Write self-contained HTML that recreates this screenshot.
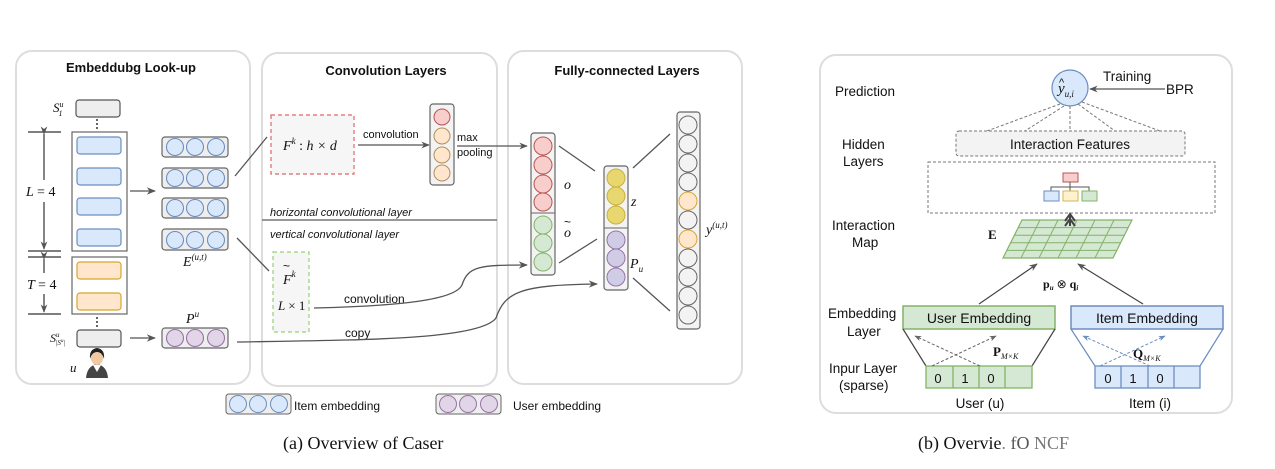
<!DOCTYPE html>
<html><head><meta charset="utf-8"><style>
html,body{margin:0;padding:0;background:#fff;}
svg{display:block;}
text{font-family:"Liberation Sans",sans-serif;fill:#111;}
.s{font-family:"Liberation Serif",serif;font-style:italic;}
.b{font-weight:bold;}
</style></head><body>
<svg width="1275" height="469" viewBox="0 0 1275 469" xmlns="http://www.w3.org/2000/svg">
<defs>
<marker id="a" viewBox="0 0 10 10" refX="9" refY="5" markerWidth="7" markerHeight="7" orient="auto"><path d="M0,1 L10,5 L0,9 L3,5z" fill="#555"/></marker>
<marker id="ad" viewBox="0 0 10 10" refX="9" refY="5" markerWidth="7" markerHeight="7" orient="auto"><path d="M0,1 L10,5 L0,9 L3,5z" fill="#666"/></marker>
<marker id="ab" viewBox="0 0 10 10" refX="9" refY="5" markerWidth="7" markerHeight="7" orient="auto"><path d="M0,1 L10,5 L0,9 L3,5z" fill="#6c8ebf"/></marker>
</defs>
<!-- panels -->
<rect x="16" y="51" width="234" height="333" rx="16" fill="#fff" stroke="#ddd" stroke-width="2"/>
<rect x="262" y="53" width="235" height="333" rx="16" fill="#fff" stroke="#ddd" stroke-width="2"/>
<rect x="508" y="51" width="234" height="333" rx="16" fill="#fff" stroke="#ddd" stroke-width="2"/>
<text x="131" y="72" font-size="13" class="b" text-anchor="middle">Embeddubg Look-up</text>
<text x="386" y="75" font-size="13" class="b" text-anchor="middle">Convolution Layers</text>
<text x="627" y="75" font-size="13" class="b" text-anchor="middle">Fully-connected Layers</text>

<!-- left panel -->
<text x="53" y="112" font-size="13" class="s">S<tspan font-size="8" dy="-5">u</tspan><tspan font-size="8" dx="-5" dy="9">1</tspan></text>
<rect x="76" y="100" width="44" height="17" rx="3" fill="#eee" stroke="#555" stroke-width="1.2"/>
<g stroke="#333" stroke-width="1.5" stroke-dasharray="2,2">
<line x1="97" y1="119" x2="97" y2="130"/><line x1="97" y1="218" x2="97" y2="228"/><line x1="97" y1="276" x2="97" y2="285"/><line x1="97" y1="317" x2="97" y2="328"/></g>
<rect x="72" y="132" width="55" height="119" fill="#fff" stroke="#666" stroke-width="1.2"/>
<g fill="#dae8fc" stroke="#6c8ebf" stroke-width="1.2">
<rect x="77" y="137" width="44" height="17" rx="3"/><rect x="77" y="168" width="44" height="17" rx="3"/><rect x="77" y="198" width="44" height="17" rx="3"/><rect x="77" y="229" width="44" height="17" rx="3"/></g>
<rect x="72" y="257" width="55" height="57" fill="#fff" stroke="#666" stroke-width="1.2"/>
<g fill="#ffe6cc" stroke="#d6a62c" stroke-width="1.2">
<rect x="77" y="262" width="44" height="17" rx="3"/><rect x="77" y="293" width="44" height="17" rx="3"/></g>
<rect x="77" y="330" width="44" height="17" rx="3" fill="#eee" stroke="#555" stroke-width="1.2"/>
<text x="50" y="342" font-size="12" class="s">S<tspan font-size="7" dy="-5">u</tspan><tspan font-size="7" dx="-4" dy="8">|S</tspan><tspan font-size="5" dy="-3">u</tspan><tspan font-size="7" dy="3">|</tspan></text>
<text x="70" y="372" font-size="13" class="s">u</text>
<!-- person -->
<g><path d="M86,378 Q87,366 97,364 Q107,366 108,378z" fill="#444"/><path d="M93,365 L97,372 L101,365z" fill="#fff"/>
<ellipse cx="97" cy="358" rx="6" ry="7" fill="#f3c9a3"/><path d="M90,359 Q89,349 97,348 Q105,349 104,359 Q102,352 97,352 Q92,352 90,359z" fill="#222"/></g>
<!-- brackets -->
<g stroke="#333" stroke-width="1.2">
<line x1="28" y1="132" x2="61" y2="132"/><line x1="28" y1="251" x2="61" y2="251"/><line x1="28" y1="257" x2="61" y2="257"/><line x1="28" y1="314" x2="61" y2="314"/>
<line x1="44" y1="134" x2="44" y2="180" marker-start="url(#a)"/><line x1="44" y1="202" x2="44" y2="249" marker-end="url(#a)"/>
<line x1="44" y1="259" x2="44" y2="273" marker-start="url(#a)"/><line x1="44" y1="294" x2="44" y2="312" marker-end="url(#a)"/></g>
<text x="26" y="196" font-size="14" class="s">L <tspan font-style="normal">= 4</tspan></text>
<text x="27" y="289" font-size="14" class="s">T <tspan font-style="normal">= 4</tspan></text>
<line x1="130" y1="191" x2="155" y2="191" stroke="#555" stroke-width="1.3" marker-end="url(#a)"/>
<line x1="130" y1="338" x2="155" y2="338" stroke="#555" stroke-width="1.3" marker-end="url(#a)"/>
<!-- E rows -->
<g stroke="#666" stroke-width="1.2" fill="#eee">
<rect x="162" y="137" width="66" height="20" rx="3"/><rect x="162" y="168" width="66" height="20" rx="3"/><rect x="162" y="198" width="66" height="20" rx="3"/><rect x="162" y="229" width="66" height="21" rx="3"/>
<rect x="162" y="328" width="66" height="20" rx="3"/></g>
<g fill="#dae8fc" stroke="#6c8ebf" stroke-width="1.1">
<circle cx="175" cy="147" r="8.5"/><circle cx="195" cy="147" r="8.5"/><circle cx="216" cy="147" r="8.5"/>
<circle cx="175" cy="178" r="8.5"/><circle cx="195" cy="178" r="8.5"/><circle cx="216" cy="178" r="8.5"/>
<circle cx="175" cy="208" r="8.5"/><circle cx="195" cy="208" r="8.5"/><circle cx="216" cy="208" r="8.5"/>
<circle cx="175" cy="240" r="8.5"/><circle cx="195" cy="240" r="8.5"/><circle cx="216" cy="240" r="8.5"/></g>
<g fill="#e1d5e7" stroke="#9673a6" stroke-width="1.1">
<circle cx="175" cy="338" r="8.5"/><circle cx="195" cy="338" r="8.5"/><circle cx="216" cy="338" r="8.5"/></g>
<text x="183" y="266" font-size="14" class="s">E<tspan font-size="9" dy="-6">(u,t)</tspan></text>
<text x="186" y="323" font-size="14" class="s">P<tspan font-size="9" dy="-6">u</tspan></text>
<g stroke="#555" stroke-width="1.3"><line x1="235" y1="176" x2="267" y2="137"/><line x1="237" y1="238" x2="269" y2="271"/></g>

<!-- conv panel -->
<rect x="271" y="115" width="83" height="59" fill="#f6f6f6" stroke="#e06666" stroke-width="1.2" stroke-dasharray="4,3"/>
<text x="283" y="150" font-size="14" class="s">F<tspan font-size="9" dy="-6">k</tspan><tspan dy="6" font-style="normal"> : </tspan>h × d</text>
<text x="363" y="138" font-size="11">convolution</text>
<line x1="358" y1="145" x2="429" y2="145" stroke="#555" stroke-width="1.2" marker-end="url(#a)"/>
<rect x="430" y="104" width="24" height="81" rx="3" fill="#f3f3f3" stroke="#666" stroke-width="1.2"/>
<circle cx="442" cy="117" r="8" fill="#f8cecc" stroke="#b85450"/>
<g fill="#ffe6cc" stroke="#b09060"><circle cx="442" cy="136" r="8"/><circle cx="442" cy="155" r="8"/><circle cx="442" cy="173" r="8"/></g>
<text x="457" y="141" font-size="11">max</text><text x="457" y="156" font-size="11">pooling</text>
<line x1="457" y1="146" x2="527" y2="146" stroke="#555" stroke-width="1.2" marker-end="url(#a)"/>
<line x1="262" y1="220" x2="497" y2="220" stroke="#777" stroke-width="1.5"/>
<text x="270" y="216" font-size="11" font-style="italic">horizontal convolutional layer</text>
<text x="270" y="238" font-size="11" font-style="italic">vertical convolutional layer</text>
<rect x="273" y="252" width="36" height="80" fill="#f6f6f6" stroke="#97d077" stroke-width="1.2" stroke-dasharray="4,3"/>
<text x="283" y="284" font-size="14" class="s">F<tspan font-size="9" dy="-7">k</tspan></text>
<text x="283" y="270" font-size="12">~</text>
<text x="278" y="310" font-size="13" class="s">L <tspan font-style="normal">× 1</tspan></text>
<text x="344" y="303" font-size="12">convolution</text>
<path d="M314,308 C400,306 455,300 462,285 C468,266 480,265 527,265" fill="none" stroke="#555" stroke-width="1.3" marker-end="url(#a)"/>
<text x="345" y="337" font-size="12">copy</text>
<path d="M237,342 C360,340 480,340 496,318 C505,292 520,285 597,284" fill="none" stroke="#555" stroke-width="1.3" marker-end="url(#a)"/>

<!-- FC panel -->
<rect x="531" y="133" width="24" height="142" rx="3" fill="#f3f3f3" stroke="#666" stroke-width="1.2"/>
<line x1="531" y1="213" x2="555" y2="213" stroke="#666"/>
<g fill="#f8cecc" stroke="#b85450"><circle cx="543" cy="146" r="9"/><circle cx="543" cy="165" r="9"/><circle cx="543" cy="184" r="9"/><circle cx="543" cy="202" r="9"/></g>
<g fill="#d5e8d4" stroke="#82b366"><circle cx="543" cy="225" r="9"/><circle cx="543" cy="243" r="9"/><circle cx="543" cy="262" r="9"/></g>
<text x="564" y="189" font-size="14" class="s">o</text>
<text x="564" y="237" font-size="14" class="s">o</text><text x="564" y="226" font-size="12">~</text>
<rect x="604" y="166" width="24" height="124" rx="3" fill="#f3f3f3" stroke="#666" stroke-width="1.2"/>
<line x1="604" y1="228" x2="628" y2="228" stroke="#666"/>
<g fill="#e8d66f" stroke="#c8b040"><circle cx="616" cy="178" r="9"/><circle cx="616" cy="196" r="9"/><circle cx="616" cy="215" r="9"/></g>
<g fill="#d0cce6" stroke="#9673a6"><circle cx="616" cy="240" r="9"/><circle cx="616" cy="258" r="9"/><circle cx="616" cy="277" r="9"/></g>
<text x="631" y="206" font-size="14" class="s">z</text>
<text x="630" y="268" font-size="14" class="s">P<tspan font-size="9" dy="4">u</tspan></text>
<rect x="677" y="112" width="23" height="217" rx="3" fill="#f3f3f3" stroke="#666" stroke-width="1.2"/>
<g fill="#f3f3f3" stroke="#666">
<circle cx="688" cy="125" r="9"/><circle cx="688" cy="144" r="9"/><circle cx="688" cy="163" r="9"/><circle cx="688" cy="182" r="9"/>
<circle cx="688" cy="220" r="9"/><circle cx="688" cy="258" r="9"/><circle cx="688" cy="277" r="9"/><circle cx="688" cy="296" r="9"/><circle cx="688" cy="315" r="9"/></g>
<g fill="#ffe6cc" stroke="#d6a62c"><circle cx="688" cy="201" r="9"/><circle cx="688" cy="239" r="9"/></g>
<text x="706" y="234" font-size="14" class="s">y<tspan font-size="9" dy="-6">(u,t)</tspan></text>
<g stroke="#555" stroke-width="1.3"><line x1="559" y1="146" x2="595" y2="171"/><line x1="559" y1="263" x2="597" y2="239"/><line x1="633" y1="168" x2="670" y2="134"/><line x1="633" y1="278" x2="670" y2="311"/></g>

<!-- legend -->
<rect x="226" y="394" width="65" height="20" rx="3" fill="#eee" stroke="#666"/>
<g fill="#dae8fc" stroke="#6c8ebf"><circle cx="238" cy="404" r="8.5"/><circle cx="258" cy="404" r="8.5"/><circle cx="279" cy="404" r="8.5"/></g>
<text x="294" y="410" font-size="12">Item embedding</text>
<rect x="436" y="394" width="65" height="20" rx="3" fill="#eee" stroke="#666"/>
<g fill="#e1d5e7" stroke="#9673a6"><circle cx="448" cy="404" r="8.5"/><circle cx="468" cy="404" r="8.5"/><circle cx="489" cy="404" r="8.5"/></g>
<text x="513" y="410" font-size="12">User embedding</text>
<text x="283" y="449" font-size="18" font-family="Liberation Serif, serif" style="font-family:'Liberation Serif',serif">(a)  Overview of Caser</text>

<!-- right panel -->
<rect x="820" y="55" width="412" height="358" rx="16" fill="#fff" stroke="#ddd" stroke-width="2"/>
<g font-size="13.5">
<text x="835" y="96">Prediction</text>
<text x="842" y="149">Hidden</text><text x="843" y="166">Layers</text>
<text x="832" y="230">Interaction</text><text x="852" y="247">Map</text>
<text x="828" y="318">Embedding</text><text x="847" y="336">Layer</text>
<text x="829" y="373">Inpur Layer</text><text x="839" y="390">(sparse)</text>
<text x="1103" y="81">Training</text><text x="1166" y="94">BPR</text>
</g>
<circle cx="1070" cy="88" r="18" fill="#dae8fc" stroke="#6c8ebf" stroke-width="1.2"/>
<text x="1058" y="93" font-size="15" class="s">y<tspan font-size="9" dy="4">u,i</tspan></text>
<text x="1059" y="86" font-size="11">^</text>
<line x1="1165" y1="89" x2="1090" y2="89" stroke="#555" stroke-width="1.2" marker-end="url(#a)"/>
<g stroke="#777" stroke-dasharray="3,2" fill="none">
<line x1="1060" y1="104" x2="987" y2="131"/><line x1="1064" y1="106" x2="1025" y2="131"/><line x1="1070" y1="106" x2="1070" y2="131"/><line x1="1078" y1="104" x2="1115" y2="131"/><line x1="1082" y1="102" x2="1160" y2="131"/>
<rect x="956" y="131" width="229" height="25" rx="3" fill="#f3f3f3"/>
<rect x="928" y="162" width="287" height="51"/></g>
<text x="1070" y="149" font-size="13.5" text-anchor="middle">Interaction Features</text>
<rect x="1063" y="173" width="15" height="9" fill="#f8cecc" stroke="#b85450"/>
<path d="M1070,182 V187 M1051,191 V187 H1089 V191 M1070,187 V191" stroke="#555" fill="none"/>
<rect x="1044" y="191" width="15" height="10" fill="#dae8fc" stroke="#6c8ebf"/>
<rect x="1063" y="191" width="15" height="10" fill="#fff2cc" stroke="#d6b656"/>
<rect x="1082" y="191" width="15" height="10" fill="#d5e8d4" stroke="#82b366"/>
<!-- grid -->
<polygon points="1022,220 1132,220 1113,258 1003,258" fill="#d5e8d4" stroke="#82b366" stroke-width="1.2"/>
<g stroke="#82b366" stroke-width="1">
<line x1="1018" y1="227.6" x2="1128" y2="227.6"/><line x1="1014" y1="235.2" x2="1124" y2="235.2"/><line x1="1011" y1="242.8" x2="1121" y2="242.8"/><line x1="1007" y1="250.4" x2="1117" y2="250.4"/>
<line x1="1040" y1="220" x2="1021" y2="258"/><line x1="1058" y1="220" x2="1039" y2="258"/><line x1="1077" y1="220" x2="1058" y2="258"/><line x1="1095" y1="220" x2="1076" y2="258"/><line x1="1114" y1="220" x2="1095" y2="258"/></g>
<path d="M1070,226 V214 M1065,221 L1070,214 L1075,221 M1065,226 L1070,219 L1075,226" stroke="#444" stroke-width="2" fill="none"/>
<text x="988" y="239" font-size="13" class="b" style="font-family:'Liberation Serif',serif">E</text>
<line x1="979" y1="304" x2="1037" y2="264" stroke="#444" stroke-width="1.2" marker-end="url(#a)"/>
<line x1="1143" y1="304" x2="1078" y2="264" stroke="#444" stroke-width="1.2" marker-end="url(#a)"/>
<text x="1043" y="288" font-size="12" style="font-family:'Liberation Serif',serif" class="b">p<tspan font-size="7" dy="2" font-style="italic">u</tspan><tspan dy="-2" font-weight="normal"> ⊗ </tspan>q<tspan font-size="7" dy="2" font-style="italic">i</tspan></text>
<rect x="903" y="306" width="152" height="23" fill="#d5e8d4" stroke="#82b366" stroke-width="1.5"/>
<text x="979" y="323" font-size="14" text-anchor="middle">User Embedding</text>
<rect x="1071" y="306" width="152" height="23" fill="#dae8fc" stroke="#6c8ebf" stroke-width="1.5"/>
<text x="1147" y="323" font-size="14" text-anchor="middle">Item Embedding</text>
<g stroke="#444" stroke-width="1.2"><line x1="903" y1="329" x2="926" y2="366"/><line x1="1055" y1="329" x2="1032" y2="366"/></g>
<g stroke="#6c8ebf" stroke-width="1.2"><line x1="1071" y1="329" x2="1095" y2="366"/><line x1="1223" y1="329" x2="1200" y2="366"/></g>
<rect x="926" y="366" width="106" height="22" fill="#d5e8d4" stroke="#82b366" stroke-width="1.3"/>
<g stroke="#82b366" stroke-width="1.3"><line x1="953" y1="366" x2="953" y2="388"/><line x1="979" y1="366" x2="979" y2="388"/><line x1="1005" y1="366" x2="1005" y2="388"/></g>
<rect x="1095" y="366" width="105" height="22" fill="#dae8fc" stroke="#6c8ebf" stroke-width="1.3"/>
<g stroke="#6c8ebf" stroke-width="1.3"><line x1="1121" y1="366" x2="1121" y2="388"/><line x1="1148" y1="366" x2="1148" y2="388"/><line x1="1174" y1="366" x2="1174" y2="388"/></g>
<g font-size="13" text-anchor="middle">
<text x="938" y="383">0</text><text x="965" y="383">1</text><text x="991" y="383">0</text>
<text x="1108" y="383">0</text><text x="1133" y="383">1</text><text x="1160" y="383">0</text></g>
<g stroke="#666" stroke-dasharray="3,2" stroke-width="1"><line x1="980" y1="366" x2="915" y2="336" marker-end="url(#ad)"/><line x1="932" y1="366" x2="996" y2="336" marker-end="url(#ad)"/></g>
<g stroke="#6c8ebf" stroke-dasharray="3,2" stroke-width="1"><line x1="1150" y1="366" x2="1083" y2="336" marker-end="url(#ab)"/><line x1="1100" y1="366" x2="1165" y2="336" marker-end="url(#ab)"/></g>
<text x="993" y="356" font-size="13" class="b" style="font-family:'Liberation Serif',serif">P<tspan font-size="8" font-style="italic" font-weight="normal" dy="3">M×K</tspan></text>
<text x="1133" y="358" font-size="13" class="b" style="font-family:'Liberation Serif',serif">Q<tspan font-size="8" font-style="italic" font-weight="normal" dy="3">M×K</tspan></text>
<text x="980" y="408" font-size="13.5" text-anchor="middle">User (u)</text>
<text x="1150" y="408" font-size="13.5" text-anchor="middle">Item (i)</text>
<text x="918" y="449" font-size="18" style="font-family:'Liberation Serif',serif">(b)  Overvie<tspan fill="#888">.</tspan>    <tspan fill="#555">fO</tspan>     <tspan fill="#777">NCF</tspan></text>
</svg>
</body></html>
